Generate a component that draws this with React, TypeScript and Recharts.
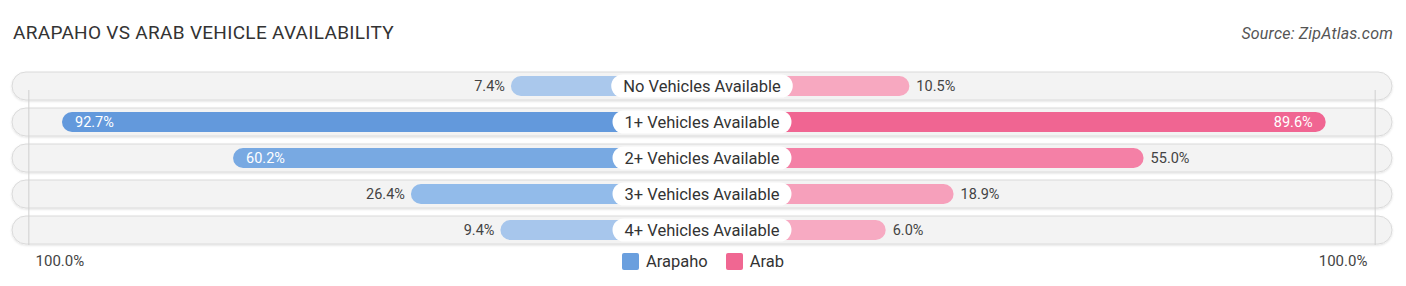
import React from "react";
import { BarChart, Bar, XAxis, YAxis, Cell, LabelList, ReferenceLine } from "recharts";

const categories = [
  "No Vehicles Available",
  "1+ Vehicles Available",
  "2+ Vehicles Available",
  "3+ Vehicles Available",
  "4+ Vehicles Available",
];
const arapaho = [7.4, 92.7, 60.2, 26.4, 9.4];
const arab = [10.5, 89.6, 55.0, 18.9, 6.0];
const arapahoColors = ["#aac8ec", "#6399dc", "#78a9e2", "#92bbea", "#a7c6ec"];
const arabColors = ["#f7a8c0", "#f06592", "#f480a6", "#f6a0bb", "#f7aac2"];
const seriesNames = ["Arapaho", "Arab"];
const seriesColors = ["#6a9fde", "#f06792"];

// room kept for the centre label, in axis units
const GAP = 28.9;
const DOMAIN = 131.1;

const data = categories.map((name, i) => ({
  name,
  left: -(GAP + arapaho[i]),
  right: GAP + arab[i],
}));

const FONT = "Roboto, 'Noto Sans', sans-serif";

function textWidth(text: string, font: string) {
  const c = document.createElement("canvas").getContext("2d");
  if (!c) return text.length * 8;
  c.font = font;
  return c.measureText(text).width;
}

const RowBackground = (props: any) => {
  const { x, y, width, height } = props;
  return (
    <rect
      x={x}
      y={y - 4}
      width={width}
      height={height + 8}
      rx={(height + 8) / 2}
      fill="#f3f3f3"
      stroke="#dadada"
      strokeWidth={1}
      filter="url(#rowShadow)"
    />
  );
};

const ValueLabel = (side: "left" | "right") => (props: any) => {
  const { x, y, width, height, index } = props;
  const v = side === "left" ? arapaho[index] : arab[index];
  const txt = `${v.toFixed(1)}%`;
  const inside = v > 58;
  const cy = y + height / 2;
  const x0 = Math.min(x, x + width);
  const x1 = Math.max(x, x + width);
  if (side === "left") {
    return (
      <text
        x={inside ? x0 + 13 : x0 - 6}
        y={cy}
        dy="0.35em"
        textAnchor={inside ? "start" : "end"}
        fill={inside ? "#ffffff" : "#444444"}
        fontSize={14.5}
        fontFamily={FONT}
      >
        {txt}
      </text>
    );
  }
  return (
    <text
      x={inside ? x1 - 13 : x1 + 7}
      y={cy}
      dy="0.35em"
      textAnchor={inside ? "end" : "start"}
      fill={inside ? "#ffffff" : "#444444"}
      fontSize={14.5}
      fontFamily={FONT}
    >
      {txt}
    </text>
  );
};

const CenterLabel = (props: any) => {
  const { x, y, height, index } = props;
  const name = categories[index];
  const w = textWidth(name, `16.5px ${FONT}`) + 24;
  const cy = y + height / 2;
  return (
    <g>
      <rect x={x - w / 2} y={cy - 11.5} width={w} height={23} rx={11.5} fill="#ffffff" />
      <text x={x} y={cy} dy="0.35em" textAnchor="middle" fill="#333333" fontSize={16.5} fontFamily={FONT}>
        {name}
      </text>
    </g>
  );
};

const EdgeTick = (props: any) => {
  const { x, y, payload } = props;
  const isLeft = payload.value < 0;
  return (
    <text
      x={isLeft ? x + 12 : x - 13}
      y={y + 5}
      dy="0.35em"
      textAnchor={isLeft ? "start" : "end"}
      fill="#444444"
      fontSize={15}
      fontFamily={FONT}
    >
      100.0%
    </text>
  );
};

const GuideLine = (props: any) => {
  const { x1, y1, x2, y2 } = props;
  return <line x1={x1} y1={y1 - 3} x2={x2} y2={y2 + 22} stroke="#cfcfcf" strokeWidth={1} />;
};

export default function App() {
  return (
    <div style={{ position: "absolute", left: 0, top: 0, width: 1406, height: 286, background: "#fff", fontFamily: FONT }}>
      <div style={{ position: "absolute", left: 13, top: 21, fontSize: 19, color: "#333", letterSpacing: 0.3 }}>
        ARAPAHO VS ARAB VEHICLE AVAILABILITY
      </div>
      <div style={{ position: "absolute", right: 13, top: 24, fontSize: 16, color: "#555", fontStyle: "italic", letterSpacing: 0.2 }}>
        Source: ZipAtlas.com
      </div>
      <BarChart
        width={1406}
        height={286}
        data={data}
        layout="vertical"
        stackOffset="sign"
        margin={{ top: 68, right: 14, bottom: 8, left: 12 }}
        style={{ position: "absolute", left: 0, top: 0 }}
      >
        <defs>
          <filter id="rowShadow" x="-5%" y="-30%" width="110%" height="160%">
            <feDropShadow dx="0" dy="1" stdDeviation="1" floodColor="#000" floodOpacity="0.12" />
          </filter>
        </defs>
        <XAxis
          type="number"
          domain={[-DOMAIN, DOMAIN]}
          ticks={[-(GAP + 100), GAP + 100]}
          axisLine={false}
          tickLine={false}
          height={30}
          tick={<EdgeTick />}
        />
        <YAxis type="category" dataKey="name" hide />
        <Bar
          dataKey="left"
          name={seriesNames[0]}
          stackId="a"
          barSize={20}
          radius={10}
          fill={seriesColors[0]}
          background={<RowBackground />}
          isAnimationActive={false}
        >
          {data.map((d, i) => (
            <Cell key={d.name} fill={arapahoColors[i]} />
          ))}
          <LabelList dataKey="left" content={ValueLabel("left")} />
        </Bar>
        <Bar
          dataKey="right"
          name={seriesNames[1]}
          stackId="a"
          barSize={20}
          radius={10}
          fill={seriesColors[1]}
          isAnimationActive={false}
        >
          {data.map((d, i) => (
            <Cell key={d.name} fill={arabColors[i]} />
          ))}
          <LabelList dataKey="right" content={ValueLabel("right")} />
          <LabelList dataKey="right" content={CenterLabel} />
        </Bar>
        <ReferenceLine x={-(GAP + 99)} shape={<GuideLine />} />
        <ReferenceLine x={GAP + 99} shape={<GuideLine />} />
      </BarChart>
      <div
        style={{
          position: "absolute",
          left: 0,
          top: 252,
          width: 1406,
          display: "flex",
          justifyContent: "center",
          gap: 18,
          fontSize: 16.5,
          color: "#333",
        }}
      >
        {seriesNames.map((n, i) => (
          <div key={n} style={{ display: "flex", alignItems: "center", gap: 7 }}>
            <span style={{ width: 17, height: 17, borderRadius: 2, background: seriesColors[i], display: "inline-block" }} />
            <span>{n}</span>
          </div>
        ))}
      </div>
    </div>
  );
}
